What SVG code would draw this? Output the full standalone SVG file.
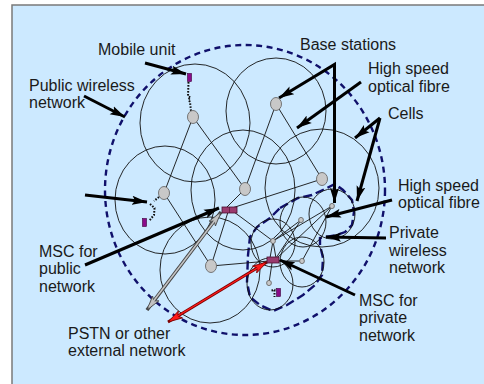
<svg xmlns="http://www.w3.org/2000/svg" width="484" height="384" viewBox="0 0 484 384">
<style>
.bg{fill:#cce9ff;stroke:#7a7a7a;stroke-width:1.5}
.cell{fill:none;stroke:#111;stroke-width:0.9}
.bs{fill:#c8c8c8;stroke:#6a6a6a;stroke-width:0.9}
.link{fill:none;stroke:#111;stroke-width:0.9}
.msc{fill:#9a3a6e;stroke:#4a1030;stroke-width:0.8}
.mu{fill:#8a0a8a;stroke:#3a003a;stroke-width:0.6}
.dot{fill:none;stroke:#111;stroke-width:2;stroke-dasharray:1.6 1.4}
.pub{fill:none;stroke:#10106b;stroke-width:2.4;stroke-dasharray:6 4.5}
.priv{fill:none;stroke:#10106b;stroke-width:2.4;stroke-dasharray:9 4}
.arr{fill:none;stroke:#000;stroke-width:3}
.lbl{font-family:"Liberation Sans",Arial,sans-serif;font-size:16px;fill:#1a1a1a}
</style>
<defs>
<marker id="ah" markerUnits="userSpaceOnUse" markerWidth="16" markerHeight="10" refX="15" refY="5" orient="auto-start-reverse">
<path d="M0,0.5 L15,5 L0,9.5 L3,5 z" fill="#000"/>
</marker>
<marker id="gh" markerUnits="userSpaceOnUse" markerWidth="16" markerHeight="10" refX="15" refY="5" orient="auto-start-reverse">
<path d="M0.5,1 L15,5 L0.5,9 L3.5,5 z" fill="#bdbdbd" stroke="#444" stroke-width="0.8"/>
</marker>
<marker id="rh" markerUnits="userSpaceOnUse" markerWidth="16" markerHeight="10" refX="15" refY="5" orient="auto-start-reverse">
<path d="M0.5,1 L15,5 L0.5,9 L3.5,5 z" fill="#ff1a1a" stroke="#7a0000" stroke-width="0.8"/>
</marker>
</defs>
<rect class="bg" x="12" y="5" width="480" height="390"/>

<g id="public-network">
<ellipse class="pub" cx="245" cy="190" rx="140" ry="145"/>
</g>
<g id="private-network">
<path class="priv" d="M280,208 L298,198 L312,195 L327,188 L335,184 L343,190 L352,200 L354,212 L352,225 L345,232 L337,235 L320,238 L320,245 L323,258 L322,275 L315,285 L303,295 L287,305 L273,311 L260,305 L250,297 L247,282 L248,255 L250,237 L257,227 L270,218 Z"/>
</g>

<g id="cells">
<ellipse class="cell" cx="195" cy="123" rx="55" ry="59"/>
<ellipse class="cell" cx="276" cy="111" rx="50" ry="53"/>
<ellipse class="cell" cx="243" cy="190" rx="52" ry="60"/>
<ellipse class="cell" cx="165" cy="200" rx="50" ry="54"/>
<ellipse class="cell" cx="322" cy="188" rx="57" ry="59"/>
<ellipse class="cell" cx="210" cy="270" rx="50" ry="53"/>
<ellipse class="cell" cx="332" cy="214" rx="23" ry="25"/>
<ellipse class="cell" cx="303" cy="222" rx="23" ry="25"/>
<ellipse class="cell" cx="273" cy="243" rx="22" ry="24"/>
<ellipse class="cell" cx="302" cy="262" rx="22" ry="25"/>
<ellipse class="cell" cx="270" cy="284" rx="23" ry="26"/>
</g>

<g id="connectors">
<line class="link" x1="193" y1="117" x2="164" y2="193"/>
<line class="link" x1="193" y1="117" x2="245" y2="189"/>
<line class="link" x1="276" y1="104" x2="245" y2="189"/>
<line class="link" x1="276" y1="104" x2="322" y2="179"/>
<line class="link" x1="164" y1="193" x2="211" y2="266"/>
<line class="link" x1="245" y1="189" x2="226" y2="208"/>
<line class="link" x1="232" y1="208" x2="322" y2="179"/>
<line class="link" x1="228" y1="212" x2="211" y2="266"/>
<line class="link" x1="211" y1="266" x2="269" y2="261"/>
<line class="link" x1="234" y1="212" x2="273" y2="241"/>
<line class="link" x1="273" y1="241" x2="332" y2="206"/>
<line class="link" x1="273" y1="241" x2="301" y2="220"/>
<line class="link" x1="270" y1="258" x2="273" y2="241"/>
<line class="link" x1="276" y1="258" x2="273" y2="241"/>
<line class="link" x1="277" y1="258" x2="332" y2="206"/>
<line class="link" x1="276" y1="258" x2="301" y2="220"/>
<line class="link" x1="278" y1="261" x2="302" y2="261"/>
<line class="link" x1="302" y1="261" x2="332" y2="206"/>
<line class="link" x1="272" y1="263" x2="269" y2="283"/>
<path class="dot" d="M188.5,82 L188,96 L190.5,97.5 L188.5,99.5 L190,102 L191,111"/>
<path class="dot" d="M159,197 L154,201 M150,204 L154.5,208 L154,215 L149,221"/>
<path class="dot" d="M271.5,290.5 L274.5,290 L274.5,297"/>
<line x1="221" y1="212" x2="147" y2="310" stroke="#444" stroke-width="3.6" marker-start="url(#gh)" marker-end="url(#gh)"/>
<line x1="219" y1="215" x2="149" y2="307" stroke="#c4c4c4" stroke-width="1.6"/>
<line x1="267" y1="262" x2="168" y2="322" stroke="#7a0000" stroke-width="3" marker-start="url(#rh)" marker-end="url(#rh)"/>
<line x1="264" y1="264" x2="171" y2="320" stroke="#ff1a1a" stroke-width="1.4"/>
<line class="arr" x1="145" y1="63" x2="186" y2="74" marker-end="url(#ah)"/>
<line class="arr" x1="84" y1="96" x2="125" y2="117" marker-end="url(#ah)"/>
<line class="arr" x1="85" y1="195" x2="147" y2="202" marker-end="url(#ah)"/>
<line class="arr" x1="85" y1="265" x2="219" y2="208" marker-end="url(#ah)"/>
<polyline class="arr" points="279,98 334.5,64.5 334.5,203" marker-start="url(#ah)" marker-end="url(#ah)"/>
<line class="arr" x1="361" y1="82" x2="297" y2="128" marker-end="url(#ah)"/>
<line class="arr" x1="380" y1="118" x2="355" y2="138" marker-end="url(#ah)"/>
<line class="arr" x1="380" y1="118" x2="357" y2="201" marker-end="url(#ah)"/>
<line class="arr" x1="392" y1="200" x2="326" y2="217" marker-end="url(#ah)"/>
<line class="arr" x1="386" y1="238" x2="326" y2="237" marker-end="url(#ah)"/>
<line class="arr" x1="355" y1="295" x2="280" y2="260" marker-end="url(#ah)"/>
</g>

<g id="base-stations">
<ellipse class="bs" cx="193" cy="117" rx="5.5" ry="6.5"/>
<ellipse class="bs" cx="276" cy="104" rx="5.5" ry="6.5"/>
<ellipse class="bs" cx="164" cy="193" rx="5.5" ry="6.5"/>
<ellipse class="bs" cx="245" cy="189" rx="5.5" ry="6.5"/>
<ellipse class="bs" cx="322" cy="179" rx="5.5" ry="6.5"/>
<ellipse class="bs" cx="211" cy="266" rx="5.5" ry="6.5"/>
<ellipse class="bs" cx="332" cy="206" rx="2.4" ry="2.6"/>
<ellipse class="bs" cx="301" cy="220" rx="2.4" ry="2.6"/>
<ellipse class="bs" cx="273" cy="241" rx="2.4" ry="2.6"/>
<ellipse class="bs" cx="302" cy="261" rx="2.4" ry="2.6"/>
<ellipse class="bs" cx="269" cy="283" rx="2.4" ry="2.6"/>
</g>

<g id="msc-public">
<rect class="msc" x="222" y="207" width="15" height="6"/>
<line x1="229.5" y1="207" x2="229.5" y2="213" stroke="#4a1030" stroke-width="0.6"/>
</g>
<g id="msc-private">
<rect class="msc" x="267" y="257" width="12" height="6"/>
</g>
<g id="mobile-units">
<rect class="mu" x="187.5" y="73.5" width="4" height="8"/>
<rect class="mu" x="142.5" y="218.5" width="4" height="8"/>
<rect class="mu" x="276.5" y="288.5" width="4" height="8"/>
</g>

<g id="labels" class="lbl">
<text x="98" y="55">Mobile unit</text>
<text x="29" y="90.5">Public wireless</text>
<text x="29" y="108">network</text>
<text x="300" y="50">Base stations</text>
<text x="368" y="74">High speed</text>
<text x="368" y="91.5">optical fibre</text>
<text x="388" y="119">Cells</text>
<text x="398" y="190.5">High speed</text>
<text x="398" y="208">optical fibre</text>
<text x="389" y="237.5">Private</text>
<text x="389" y="255.5">wireless</text>
<text x="389" y="273">network</text>
<text x="39" y="256.5">MSC for</text>
<text x="39" y="274">public</text>
<text x="39" y="291.5">network</text>
<text x="359" y="305.5">MSC for</text>
<text x="359" y="323">private</text>
<text x="359" y="340.5">network</text>
<text x="68" y="338.5">PSTN or other</text>
<text x="68" y="356">external network</text>
</g>
</svg>
